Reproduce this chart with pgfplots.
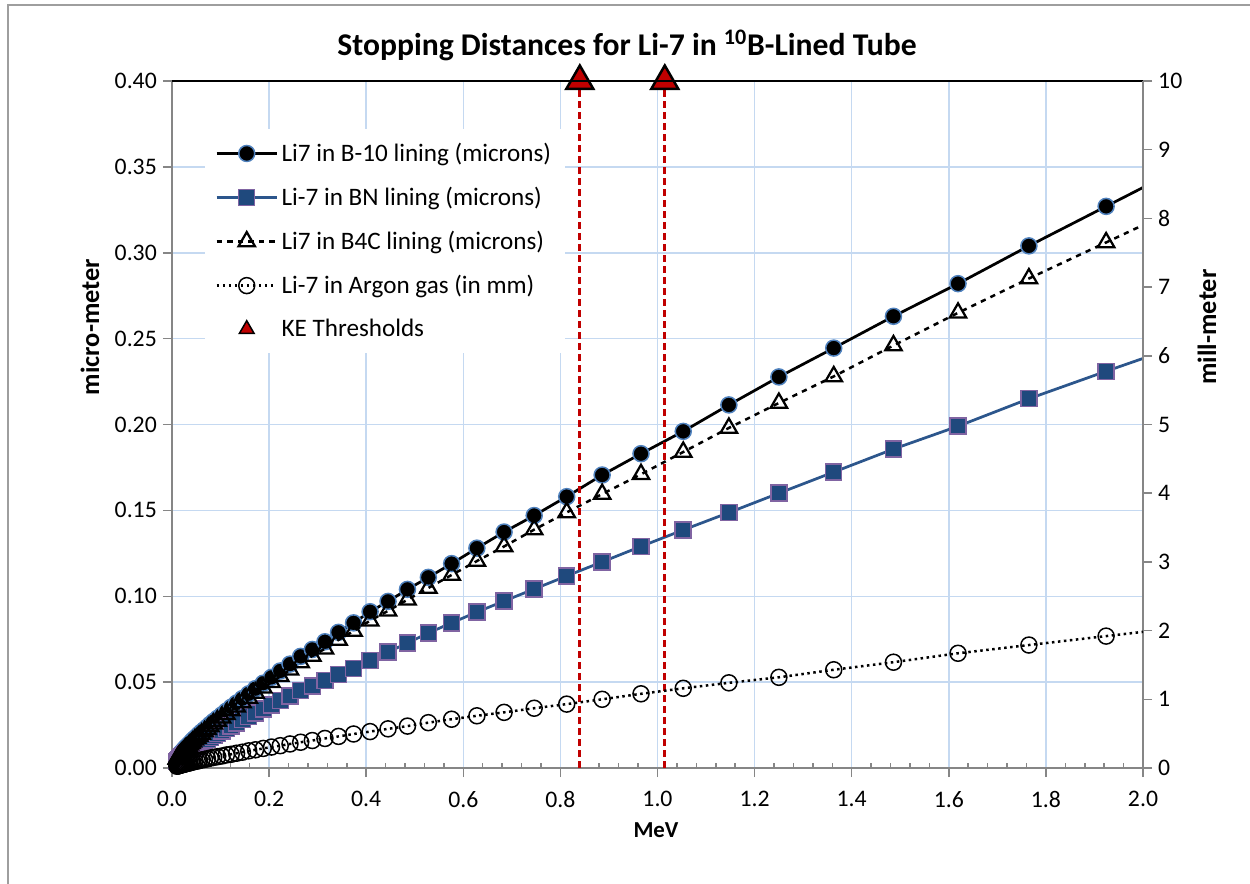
\documentclass[border=0pt]{standalone}
\usepackage{fontspec}
\setmainfont{Carlito}
\usepackage{pgfplots}
\usepackage{pgfplotstable}
\pgfplotsset{compat=1.18}

\definecolor{gridblue}{RGB}{197,217,241}
\definecolor{axgray}{RGB}{134,134,134}
\definecolor{bedge}{RGB}{79,129,189}
\definecolor{bnline}{RGB}{44,86,140}
\definecolor{bnfill}{RGB}{31,73,125}
\definecolor{bnedge}{RGB}{128,100,162}
\definecolor{kered}{RGB}{192,0,0}

% E (MeV), ranges in B-10, BN, B4C (micron), argon (mm)
\pgfplotstableread{
E      B10     BN      B4C     Ar
0.010  0.0055  0.0038  0.0052  0.027
0.011  0.0059  0.0041  0.0056  0.029
0.012  0.0063  0.0044  0.0060  0.031
0.013  0.0067  0.0047  0.0063  0.033
0.014  0.0071  0.0050  0.0067  0.035
0.015  0.0076  0.0053  0.0072  0.038
0.017  0.0081  0.0056  0.0077  0.041
0.018  0.0086  0.0060  0.0081  0.044
0.020  0.0092  0.0064  0.0087  0.047
0.022  0.0098  0.0068  0.0093  0.050
0.024  0.0104  0.0072  0.0098  0.054
0.026  0.0111  0.0077  0.0105  0.058
0.028  0.0118  0.0082  0.0112  0.062
0.031  0.0126  0.0088  0.0119  0.067
0.034  0.0134  0.0094  0.0127  0.072
0.037  0.0143  0.0100  0.0135  0.077
0.040  0.0152  0.0106  0.0144  0.083
0.043  0.0162  0.0113  0.0153  0.089
0.047  0.0173  0.0121  0.0164  0.095
0.052  0.0185  0.0129  0.0175  0.102
0.056  0.0197  0.0137  0.0186  0.109
0.061  0.0210  0.0146  0.0198  0.117
0.067  0.0224  0.0156  0.0212  0.125
0.073  0.0239  0.0166  0.0226  0.135
0.079  0.0255  0.0177  0.0241  0.145
0.086  0.0272  0.0189  0.0257  0.155
0.094  0.0290  0.0202  0.0274  0.165
0.103  0.0310  0.0216  0.0293  0.175
0.112  0.0331  0.0230  0.0313  0.190
0.122  0.0354  0.0246  0.0335  0.200
0.133  0.0378  0.0263  0.0357  0.215
0.145  0.0404  0.0281  0.0382  0.230
0.158  0.0432  0.0300  0.0408  0.250
0.172  0.0462  0.0321  0.0437  0.265
0.188  0.0494  0.0343  0.0467  0.285
0.205  0.0528  0.0367  0.0499  0.305
0.223  0.0565  0.0393  0.0534  0.325
0.243  0.0605  0.0420  0.0572  0.350
0.265  0.0650  0.0450  0.0614  0.375
0.289  0.0690  0.0478  0.0652  0.400
0.315  0.0735  0.0510  0.0694  0.430
0.343  0.0790  0.0545  0.0746  0.460
0.374  0.0845  0.0580  0.0797  0.495
0.408  0.0910  0.0625  0.0858  0.530
0.445  0.0970  0.0675  0.0915  0.570
0.485  0.1040  0.0728  0.0980  0.610
0.528  0.1110  0.0786  0.1048  0.660
0.576  0.1190  0.0845  0.1124  0.710
0.628  0.1280  0.0908  0.1205  0.760
0.684  0.1374  0.0972  0.1290  0.810
0.746  0.1470  0.1042  0.1388  0.870
0.813  0.1580  0.1118  0.1488  0.930
0.886  0.1706  0.1200  0.1595  1.000
0.966  0.1830  0.1290  0.1710  1.080
1.053  0.1960  0.1386  0.1840  1.160
1.147  0.2114  0.1487  0.1980  1.240
1.250  0.2277  0.1600  0.2125  1.320
1.363  0.2445  0.1723  0.2280  1.430
1.486  0.2630  0.1857  0.2460  1.540
1.619  0.2820  0.1990  0.2650  1.670
1.765  0.3040  0.2150  0.2850  1.790
1.924  0.3270  0.2310  0.3060  1.920
2.097  0.3520  0.2480  0.3290  2.060
}\stopdata

\newcommand\tickfont{\fontsize{13.5}{16}\selectfont}

\begin{document}
\begin{tikzpicture}
\begin{axis}[
    name=main, at={(34.4mm,23mm)}, anchor=south west,
    scale only axis, width=194.2mm, height=137.4mm,
    xmin=0, xmax=2, ymin=0, ymax=0.4,
    axis x line*=bottom, axis y line*=left,
    axis line style={axgray, line width=0.4mm, -},
    xtick={0,0.2,0.4,0.6,0.8,1.0,1.2,1.4,1.6,1.8,2.0},
    ytick={0,0.05,0.1,0.15,0.2,0.25,0.3,0.35,0.4},
    minor x tick num=4,
    tick align=outside,
    major tick length=1.8mm, minor tick length=1mm,
    tick style={axgray, line width=0.3mm},
    minor x tick style={yshift=1mm},
    grid=major, major grid style={gridblue, line width=0.3mm},
    tick label style={font=\tickfont},
    /pgf/number format/assume math mode=true,
    x tick label style={yshift=-1.6mm, /pgf/number format/.cd, fixed, fixed zerofill, precision=1},
    y tick label style={/pgf/number format/.cd, fixed, fixed zerofill, precision=2},
    scaled ticks=false,
    clip mode=individual,
    legend cell align=left,
    legend image code/.code={
      \draw[mark repeat=2, mark phase=2, #1] plot coordinates {(0mm,0mm) (6mm,0mm) (12mm,0mm)};},
    legend style={at={(0.034,0.93)}, anchor=north west, draw=none, fill=white,
      font=\fontsize{14.3}{17}\selectfont, row sep=3.2mm, inner sep=2mm},
  ]
  \addplot[black, line width=0.55mm, mark=*, mark size=1.6mm,
    mark options={fill=black, draw=bedge, line width=0.3mm}]
    table[x=E, y=B10] {\stopdata};
  \addlegendentry{Li7 in B-10 lining (microns)}
  \addplot[bnline, line width=0.55mm, mark=square*, mark size=1.6mm,
    mark options={fill=bnfill, draw=bnedge, line width=0.3mm}]
    table[x=E, y=BN] {\stopdata};
  \addlegendentry{Li-7 in BN lining (microns)}
  \addplot[black, dashed, line width=0.5mm, mark=triangle, mark size=1.9mm,
    mark options={solid, fill=none, draw=black, line width=0.45mm}]
    table[x=E, y=B4C] {\stopdata};
  \addlegendentry{Li7 in B4C lining (microns)}
  \addlegendimage{black, dotted, line width=0.5mm, mark=o, mark size=1.6mm,
    mark options={solid, line width=0.3mm}}
  \addlegendentry{Li-7 in Argon gas (in mm)}
  \addlegendimage{only marks, mark=triangle*, mark size=1.7mm,
    mark options={fill=kered, draw=black, line width=0.3mm}}
  \addlegendentry{KE Thresholds}
  % KE threshold drop lines
  \addplot[kered, line width=0.55mm, dash pattern=on 1.4mm off 0.8mm, forget plot]
    coordinates {(0.84,0) (0.84,0.40)};
  \addplot[kered, line width=0.55mm, dash pattern=on 1.4mm off 0.8mm, forget plot]
    coordinates {(1.015,0) (1.015,0.40)};
  \addplot[only marks, clip=false, mark=triangle*, mark size=3.1mm, forget plot,
    mark options={fill=kered, draw=black, line width=0.5mm}]
    coordinates {(0.84,0.40) (1.015,0.40)};
  \draw[black, line width=0.4mm] (rel axis cs:0,1) -- (rel axis cs:1,1);
\end{axis}

\begin{axis}[
    at={(34.4mm,23mm)}, anchor=south west,
    scale only axis, width=194.2mm, height=137.4mm,
    xmin=0, xmax=2, ymin=0, ymax=10,
    axis x line=none, axis y line*=right,
    axis line style={axgray, line width=0.4mm, -},
    ytick={0,1,2,3,4,5,6,7,8,9,10},
    tick align=outside, major tick length=1.8mm,
    tick style={axgray, line width=0.3mm},
    tick label style={font=\tickfont},
    /pgf/number format/assume math mode=true,
  ]
  \addplot[black, dotted, line width=0.5mm, mark=o, mark size=1.6mm,
    mark options={solid, line width=0.3mm}]
    table[x=E, y=Ar] {\stopdata};
\end{axis}

\node[font=\bfseries\fontsize{18}{21}\selectfont] at (125.4mm,167.6mm)
  {Stopping Distances for Li-7 in \textsuperscript{10}B-Lined Tube};
\node[font=\bfseries\fontsize{15}{18}\selectfont, rotate=90] at (18mm,111.2mm) {micro-meter};
\node[font=\bfseries\fontsize{15}{18}\selectfont, rotate=90] at (241.4mm,111.2mm) {mill-meter};
\node[font=\bfseries\fontsize{13}{15}\selectfont] at (131.2mm,10.6mm) {MeV};
\draw[axgray!80, line width=0.3mm] (1.6mm,-5mm) -- (1.6mm,175.6mm) -- (260mm,175.6mm);
\pgfresetboundingbox
\useasboundingbox (0,0) rectangle (250mm,176.6mm);
\end{tikzpicture}
\end{document}
